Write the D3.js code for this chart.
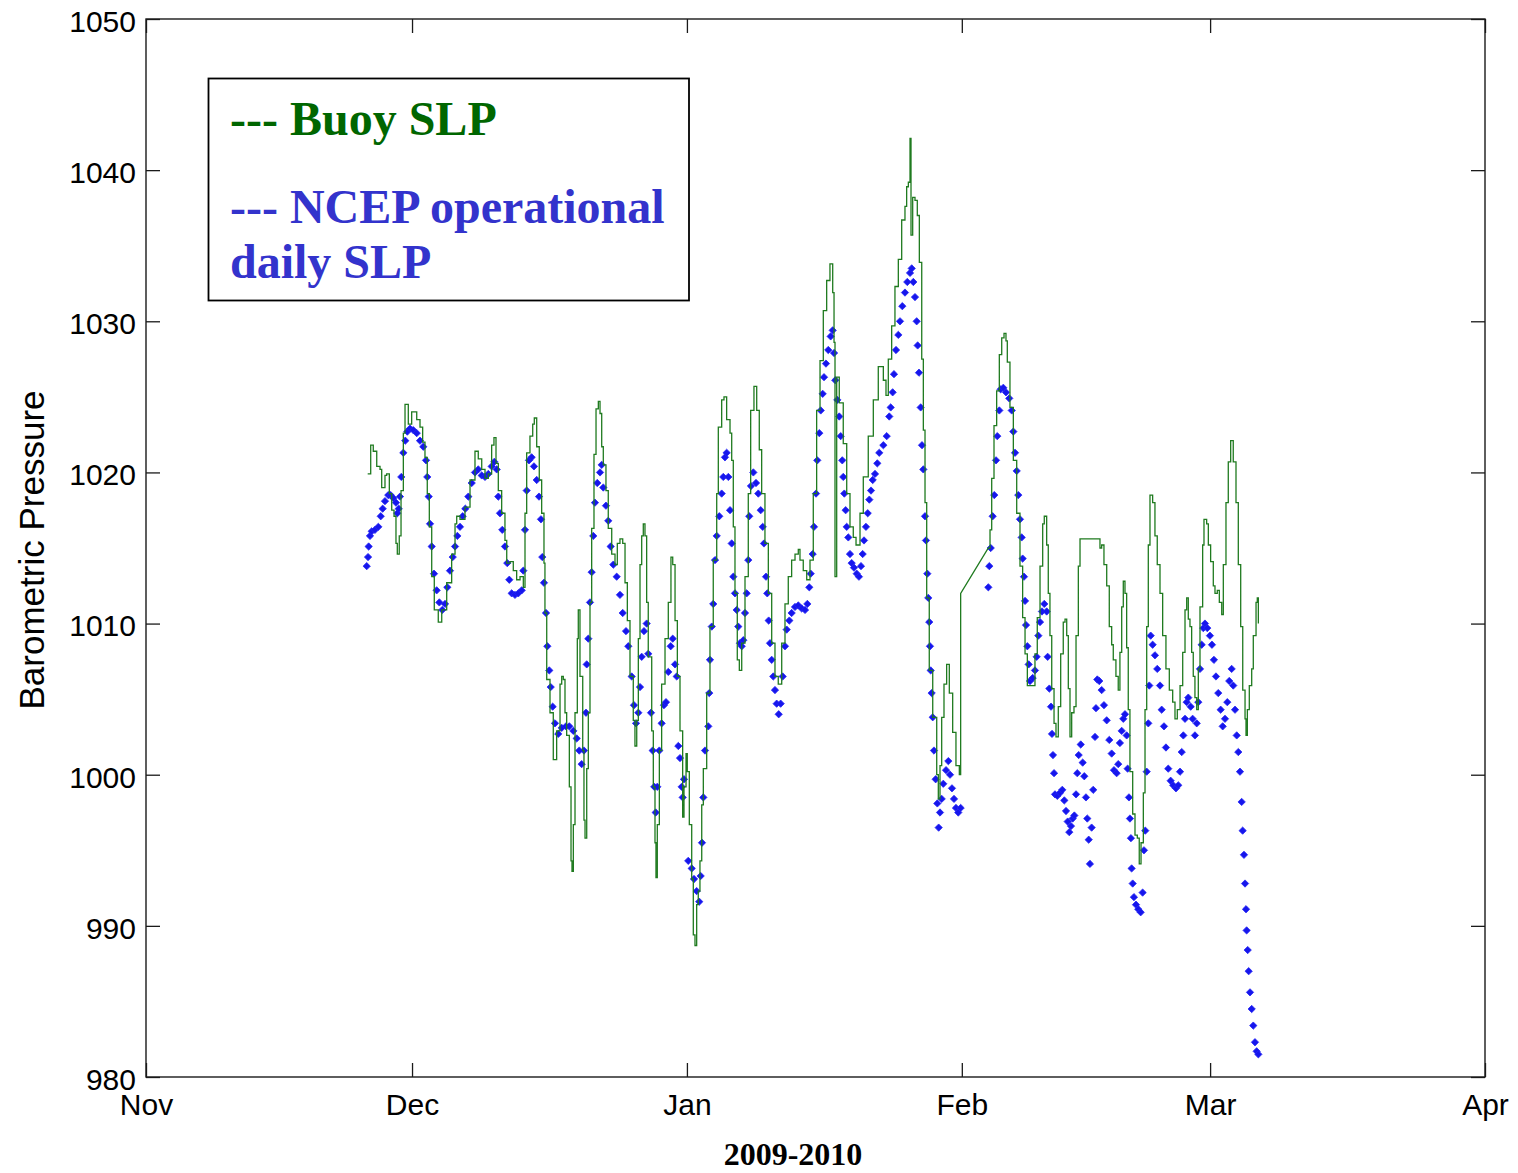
<!DOCTYPE html>
<html>
<head>
<meta charset="utf-8">
<script src="https://cdn.jsdelivr.net/npm/d3@7"></script>
<style>
  html, body { margin: 0; padding: 0; background: #fff; }
  svg { display: block; }
</style>
</head>
<body>
<svg id="chart" width="1518" height="1173"></svg>
<script>
// ---------------- DATA ----------------
// time is given in days since 2009-11-01 00:00 UTC
const seasonStartUTC = Date.UTC(2009, 10, 1);
const seasonEndUTC = Date.UTC(2010, 3, 1);

const monthTickLabels = ["Nov", "Dec", "Jan", "Feb", "Mar", "Apr"];
const pressureTicks = [980, 990, 1000, 1010, 1020, 1030, 1040, 1050];

const seriesNames = ["--- Buoy SLP", "--- NCEP operational", "daily SLP"];
const yAxisTitle = "Barometric Pressure";
const xAxisTitle = "2009-2010";

// Buoy SLP (green line): [day, hPa]
const buoySLP = [
[25.00,1019.9],[25.34,1021.8],[25.63,1021.4],[26.02,1020.4],[26.39,1020.2],[26.58,1019.0],[26.95,1019.8],[27.14,1019.9],
[27.44,1018.6],[27.71,1017.5],[27.97,1017.1],[28.19,1015.3],[28.34,1014.6],[28.56,1015.8],[28.76,1018.8],[29.02,1022.6],
[29.21,1024.5],[29.58,1023.2],[29.96,1024.0],[30.33,1024.0],[30.53,1023.5],[30.90,1023.0],[31.20,1022.0],[31.46,1021.0],
[31.72,1018.6],[31.95,1016.4],[32.22,1013.1],[32.51,1010.9],[32.96,1010.1],[33.35,1010.9],[33.91,1012.7],[34.47,1014.6],
[34.85,1016.6],[35.04,1017.1],[35.41,1016.9],[35.97,1017.7],[36.54,1019.5],[37.10,1021.4],[37.47,1020.9],[37.86,1020.2],
[38.23,1019.6],[38.60,1019.9],[38.98,1021.8],[39.24,1022.3],[39.47,1020.6],[39.73,1018.8],[40.11,1017.3],[40.48,1015.5],
[40.68,1014.0],[41.05,1014.1],[41.42,1013.5],[41.80,1012.9],[42.18,1013.1],[42.55,1012.4],[42.74,1017.3],[42.93,1021.3],
[43.30,1022.4],[43.61,1023.2],[43.79,1023.6],[44.06,1021.7],[44.35,1019.5],[44.62,1017.3],[44.88,1014.0],[44.99,1010.7],
[45.19,1006.3],[45.56,1004.1],[45.93,1001.0],[46.31,1002.9],[46.69,1006.0],[46.88,1006.5],[47.06,1006.3],[47.25,1004.1],
[47.44,1002.6],[47.74,999.2],[47.93,994.3],[48.04,993.6],[48.19,996.7],[48.38,1004.1],[48.64,1009.0],[48.75,1010.9],
[48.94,1006.5],[49.25,1001.6],[49.39,997.0],[49.51,995.8],[49.70,1000.4],[49.88,1004.1],[50.07,1011.4],[50.26,1016.3],
[50.52,1021.2],[50.75,1024.2],[51.01,1024.7],[51.20,1023.9],[51.39,1021.7],[51.57,1020.5],[51.87,1018.8],[52.13,1016.3],
[52.52,1014.6],[52.89,1013.9],[53.15,1015.3],[53.45,1015.6],[53.76,1015.3],[54.02,1012.7],[54.28,1010.2],[54.58,1006.5],
[54.95,1003.6],[55.14,1001.9],[55.34,1003.6],[55.52,1009.0],[55.71,1013.9],[55.90,1015.8],[56.08,1016.6],[56.27,1015.8],
[56.46,1011.4],[56.64,1007.8],[57.03,1002.9],[57.21,999.2],[57.40,995.5],[57.51,993.2],[57.66,996.7],[57.89,1001.6],
[58.15,1006.0],[58.53,1009.0],[58.90,1011.4],[59.20,1014.4],[59.40,1013.9],[59.66,1010.2],[59.92,1006.5],[60.22,1002.9],
[60.52,997.2],[60.67,999.2],[60.90,1001.4],[61.04,1000.2],[61.27,996.7],[61.54,993.1],[61.72,989.4],[61.91,988.7],
[62.10,991.4],[62.28,992.3],[62.47,994.3],[62.67,998.0],[62.85,1000.4],[63.23,1005.4],[63.60,1009.8],[63.97,1014.2],
[64.36,1018.6],[64.54,1023.0],[64.92,1024.8],[65.18,1025.0],[65.48,1023.5],[65.86,1022.6],[66.05,1020.8],[66.23,1016.4],
[66.42,1012.0],[66.68,1007.6],[66.91,1006.9],[67.18,1008.7],[67.55,1013.1],[67.92,1018.6],[68.19,1024.1],[68.56,1025.7],
[68.87,1024.1],[69.16,1021.5],[69.43,1018.6],[69.80,1015.3],[70.18,1012.0],[70.56,1008.7],[70.93,1006.5],[71.30,1006.0],
[71.69,1008.7],[72.06,1011.3],[72.43,1013.1],[72.81,1014.2],[73.19,1014.6],[73.56,1014.9],[73.75,1014.2],[74.12,1013.5],
[74.51,1012.9],[74.88,1014.2],[75.25,1018.6],[75.63,1024.1],[76.01,1027.4],[76.38,1030.7],[76.76,1032.7],[77.13,1033.8],
[77.44,1031.9],[77.59,1028.6],[77.70,1013.1],[77.89,1026.3],[78.18,1024.6],[78.63,1021.9],[79.02,1018.6],[79.39,1016.4],
[79.76,1015.7],[80.07,1015.2],[80.52,1017.3],[80.89,1019.7],[81.45,1022.4],[82.02,1024.8],[82.58,1027.0],[83.15,1026.1],
[83.45,1025.1],[83.71,1027.5],[84.09,1029.7],[84.46,1032.3],[84.84,1034.1],[85.22,1036.7],[85.59,1037.6],[85.78,1038.9],
[85.97,1039.2],[86.16,1042.1],[86.27,1035.7],[86.46,1038.2],[86.72,1038.0],[86.98,1037.0],[87.21,1033.9],[87.48,1027.5],
[87.66,1022.8],[87.85,1018.0],[88.04,1011.7],[88.33,1006.9],[88.72,1003.8],[89.17,1000.0],[89.35,998.4],[89.54,1000.6],
[89.73,1003.8],[89.99,1006.0],[90.29,1007.3],[90.59,1005.4],[90.97,1002.8],[91.34,1000.6],[91.72,1000.0],[91.87,1012.0],
[94.99,1015.0],[95.18,1016.2],[95.37,1019.6],[95.63,1023.1],[95.93,1025.4],[96.23,1027.8],[96.50,1028.9],[96.76,1029.2],
[96.98,1028.7],[97.13,1027.3],[97.43,1024.3],[97.81,1020.8],[98.19,1017.3],[98.56,1013.8],[98.86,1010.4],[99.13,1008.0],
[99.39,1005.9],[99.88,1005.9],[100.25,1008.0],[100.51,1010.4],[100.82,1013.8],[101.12,1016.6],[101.30,1017.1],[101.57,1015.2],
[101.75,1012.0],[101.94,1009.2],[102.14,1005.7],[102.40,1003.4],[102.62,1002.5],[102.88,1004.5],[103.15,1008.0],[103.44,1010.1],
[103.64,1010.3],[103.83,1009.2],[104.01,1005.7],[104.20,1002.5],[104.39,1004.1],[104.65,1004.5],[104.88,1009.2],[105.14,1013.8],
[105.33,1015.6],[107.39,1015.6],[107.58,1015.0],[107.77,1015.2],[108.03,1013.9],[108.34,1012.5],[108.63,1009.8],[108.90,1008.6],
[109.08,1007.6],[109.38,1006.5],[109.64,1005.6],[109.83,1008.1],[110.03,1011.1],[110.21,1012.8],[110.40,1012.0],[110.59,1008.4],
[110.77,1004.3],[110.96,1000.2],[111.27,997.4],[111.53,996.0],[111.79,995.8],[112.01,994.1],[112.21,995.5],[112.47,998.8],
[112.66,1004.3],[112.85,1009.8],[113.03,1015.2],[113.22,1018.5],[113.52,1018.0],[113.78,1015.8],[114.04,1013.9],[114.35,1012.0],
[114.65,1009.2],[115.02,1007.0],[115.40,1005.6],[115.78,1004.8],[116.04,1003.7],[116.30,1004.3],[116.61,1005.9],[116.91,1008.1],
[117.17,1010.9],[117.36,1011.7],[117.54,1010.3],[117.73,1009.8],[117.92,1008.1],[118.10,1006.5],[118.29,1005.1],[118.49,1004.3],
[118.67,1007.0],[118.86,1011.1],[119.16,1015.2],[119.31,1016.9],[119.61,1016.6],[119.80,1015.2],[120.06,1014.1],[120.36,1012.5],
[120.55,1012.0],[120.81,1012.2],[121.04,1011.4],[121.31,1010.6],[121.49,1013.9],[121.79,1018.0],[122.05,1020.7],[122.32,1022.1],
[122.61,1020.7],[122.92,1018.0],[123.18,1013.9],[123.45,1009.8],[123.68,1005.6],[123.94,1003.7],[124.05,1002.6],[124.20,1004.3],
[124.42,1005.9],[124.69,1007.0],[124.87,1009.2],[125.18,1011.4],[125.32,1011.7],[125.44,1010.0]
];

// NCEP operational daily SLP (blue markers): [day, hPa]
const ncepSLP = [
[24.89,1013.8],[25.04,1014.4],[25.11,1015.1],[25.26,1015.8],[25.45,1016.1],[25.82,1016.2],[26.20,1016.4],[26.47,1017.1],
[26.69,1017.6],[26.95,1018.1],[27.32,1018.5],[27.59,1018.5],[27.89,1018.3],[28.19,1018.0],[28.34,1017.3],[28.50,1017.6],
[28.64,1018.4],[28.79,1019.7],[29.02,1021.3],[29.24,1022.1],[29.47,1022.7],[29.77,1022.9],[30.14,1022.8],[30.53,1022.6],
[30.90,1022.1],[31.27,1021.7],[31.58,1020.8],[31.72,1019.7],[31.88,1018.4],[32.03,1016.6],[32.22,1015.1],[32.48,1013.3],
[32.78,1012.2],[33.08,1011.4],[33.41,1010.9],[33.72,1011.3],[33.98,1012.4],[34.28,1013.5],[34.59,1014.4],[34.85,1015.1],
[35.11,1015.8],[35.41,1016.4],[35.71,1017.1],[36.01,1017.6],[36.35,1018.4],[36.73,1019.3],[37.10,1020.0],[37.47,1020.2],
[37.86,1019.8],[38.23,1019.7],[38.60,1019.9],[38.98,1020.4],[39.28,1020.7],[39.55,1020.2],[39.73,1018.4],[39.92,1017.3],
[40.18,1016.2],[40.48,1015.1],[40.74,1014.0],[40.97,1012.9],[41.24,1012.0],[41.61,1011.9],[41.98,1012.0],[42.37,1012.2],
[42.55,1013.5],[42.74,1016.2],[42.93,1018.8],[43.19,1020.8],[43.49,1021.0],[43.75,1020.4],[44.06,1019.5],[44.32,1018.4],
[44.54,1016.9],[44.69,1014.4],[44.88,1012.7],[45.11,1010.7],[45.26,1008.5],[45.48,1006.9],[45.64,1005.8],[45.86,1004.5],
[46.12,1003.4],[46.49,1002.7],[46.88,1003.1],[47.36,1003.2],[47.74,1003.2],[48.19,1002.9],[48.57,1002.4],[48.86,1001.6],
[49.13,1000.7],[49.39,1001.6],[49.62,1004.1],[49.70,1007.3],[49.88,1009.0],[50.07,1011.4],[50.26,1013.4],[50.44,1015.8],
[50.63,1018.0],[50.89,1019.3],[51.20,1020.0],[51.39,1020.5],[51.57,1019.0],[51.87,1017.8],[52.13,1016.8],[52.40,1015.1],
[52.70,1013.9],[53.08,1013.1],[53.45,1011.9],[53.76,1010.7],[54.13,1009.5],[54.39,1008.5],[54.77,1006.5],[55.03,1004.6],
[55.26,1003.4],[55.52,1004.1],[55.71,1005.8],[55.90,1007.8],[56.16,1009.5],[56.46,1010.0],[56.64,1008.0],[56.95,1004.1],
[57.14,1001.6],[57.32,999.2],[57.48,997.5],[57.66,999.2],[57.89,1001.6],[58.15,1003.4],[58.41,1004.6],[58.64,1004.8],
[58.90,1006.8],[59.17,1008.5],[59.40,1009.0],[59.66,1007.3],[59.85,1006.5],[60.03,1001.9],[60.22,1001.1],[60.41,999.2],
[60.52,998.5],[60.67,999.7],[61.15,994.3],[61.54,993.8],[61.80,993.1],[62.10,992.3],[62.39,991.6],[62.55,993.3],
[62.70,995.5],[62.85,998.5],[63.04,1001.6],[63.41,1003.2],[63.52,1005.4],[63.60,1007.6],[63.80,1009.8],[63.97,1011.3],
[64.17,1014.2],[64.36,1015.8],[64.65,1017.1],[64.92,1018.6],[65.10,1019.7],[65.29,1021.0],[65.48,1021.3],[65.67,1019.7],
[65.86,1017.5],[66.05,1015.3],[66.23,1013.1],[66.42,1012.0],[66.61,1010.9],[66.79,1009.8],[66.98,1008.7],[67.18,1008.5],
[67.36,1008.9],[67.55,1010.7],[67.74,1012.0],[67.92,1014.2],[68.03,1017.1],[68.22,1019.1],[68.49,1020.0],[68.79,1019.3],
[69.05,1018.6],[69.32,1017.5],[69.55,1016.4],[69.69,1015.3],[69.92,1013.1],[70.06,1012.0],[70.22,1010.2],[70.37,1008.7],
[70.56,1007.6],[70.74,1006.5],[70.93,1005.6],[71.12,1004.7],[71.35,1004.0],[71.57,1004.7],[71.80,1006.5],[72.06,1008.5],
[72.25,1009.6],[72.55,1010.2],[72.81,1010.7],[73.19,1011.1],[73.56,1011.2],[73.94,1011.0],[74.32,1010.9],[74.58,1011.3],
[74.80,1012.4],[74.96,1013.3],[75.18,1014.6],[75.33,1016.4],[75.56,1018.6],[75.70,1020.8],[75.93,1022.6],[76.09,1024.1],
[76.31,1025.2],[76.46,1026.3],[76.68,1027.2],[76.94,1028.1],[77.21,1029.0],[77.44,1029.4],[77.59,1027.9],[77.73,1026.1],
[77.96,1024.8],[78.18,1023.7],[78.34,1022.4],[78.52,1020.8],[78.63,1019.7],[78.75,1018.6],[78.90,1017.5],[79.02,1016.4],
[79.20,1015.7],[79.39,1014.6],[79.58,1014.0],[79.84,1013.7],[80.15,1013.3],[80.40,1013.1],[80.63,1013.8],[80.82,1014.6],
[80.97,1015.5],[81.19,1016.4],[81.39,1017.3],[81.57,1018.2],[81.76,1018.8],[81.95,1019.5],[82.21,1019.9],[82.47,1020.6],
[82.69,1021.3],[83.15,1021.8],[83.53,1022.4],[83.82,1023.7],[83.98,1024.3],[84.20,1025.3],[84.35,1026.5],[84.58,1028.1],
[84.84,1029.1],[85.03,1030.0],[85.29,1031.0],[85.59,1031.9],[85.85,1032.6],[86.16,1033.2],[86.35,1033.5],[86.53,1032.6],
[86.72,1031.6],[86.91,1030.0],[87.02,1028.4],[87.17,1026.6],[87.36,1024.3],[87.51,1021.8],[87.66,1020.2],[87.85,1017.1],
[87.96,1015.5],[88.11,1013.3],[88.22,1011.7],[88.33,1010.1],[88.41,1008.5],[88.49,1006.9],[88.60,1005.4],[88.72,1003.8],
[88.86,1001.6],[89.05,999.7],[89.24,998.1],[89.39,996.5],[89.54,997.5],[89.73,998.4],[89.91,999.4],[90.22,1000.3],
[90.48,1000.9],[90.67,1000.0],[90.89,999.1],[91.12,998.4],[91.34,997.8],[91.60,997.5],[91.87,997.8],
[94.99,1012.4],[95.10,1013.8],[95.26,1015.0],[95.48,1017.1],[95.66,1018.5],[95.86,1020.8],[96.00,1022.4],[96.23,1024.1],
[96.38,1025.5],[96.68,1025.6],[96.98,1025.3],[97.35,1024.9],[97.63,1024.1],[97.81,1022.7],[98.00,1021.3],[98.19,1020.1],
[98.37,1018.5],[98.56,1016.9],[98.75,1015.7],[98.86,1014.3],[99.01,1013.1],[99.13,1011.5],[99.24,1009.9],[99.39,1008.5],
[99.54,1007.3],[99.69,1006.2],[99.99,1006.4],[100.25,1006.9],[100.44,1007.8],[100.63,1009.2],[100.82,1010.1],[101.04,1010.8],
[101.30,1011.3],[101.57,1010.8],[101.68,1007.8],[101.87,1005.7],[102.06,1004.5],[102.17,1002.7],[102.28,1001.3],[102.40,1000.1],
[102.51,998.7],[102.77,998.6],[103.07,998.8],[103.33,999.0],[103.56,998.3],[103.75,997.6],[103.94,996.9],[104.12,996.2],
[104.31,996.6],[104.50,997.1],[104.69,997.3],[104.88,998.7],[105.02,1000.1],[105.18,1001.3],[105.41,1002.0],[105.63,1000.8],
[105.81,999.9],[106.00,998.5],[106.15,997.1],[106.31,995.7],[106.45,994.1],[106.64,996.5],[106.82,999.0],[107.02,1002.5],
[107.13,1004.4],[107.28,1006.3],[107.50,1006.2],[107.77,1005.6],[108.03,1004.6],[108.34,1003.6],[108.63,1002.3],[108.90,1001.4],
[109.16,1000.3],[109.46,1000.1],[109.64,1000.7],[109.83,1002.1],[110.03,1002.9],[110.21,1003.7],[110.40,1004.0],[110.59,1002.6],
[110.70,1000.4],[110.85,998.5],[110.96,997.1],[111.07,995.8],[111.15,993.8],[111.27,992.8],[111.41,991.9],[111.64,991.4],
[111.90,991.1],[112.17,990.9],[112.39,992.2],[112.54,995.0],[112.69,996.3],[112.85,1000.2],[113.03,1003.4],[113.14,1005.9],
[113.30,1009.2],[113.52,1008.6],[113.78,1007.9],[114.04,1007.0],[114.35,1005.9],[114.54,1004.3],[114.80,1003.2],[115.02,1001.8],
[115.28,1000.4],[115.55,999.6],[115.84,999.3],[116.15,999.1],[116.41,999.3],[116.61,1000.2],[116.80,1001.5],[116.98,1002.6],
[117.17,1003.7],[117.36,1004.8],[117.54,1005.1],[117.81,1004.5],[118.03,1003.7],[118.29,1002.6],[118.49,1003.4],[118.67,1004.8],
[118.86,1007.0],[119.05,1008.6],[119.23,1009.7],[119.42,1010.0],[119.68,1009.7],[119.98,1009.2],[120.21,1008.6],[120.43,1007.6],
[120.66,1006.5],[120.92,1005.4],[121.19,1004.3],[121.42,1003.2],[121.68,1003.7],[121.94,1004.8],[122.16,1006.2],[122.43,1007.0],
[122.61,1005.9],[122.81,1004.3],[123.00,1002.6],[123.18,1001.5],[123.37,1000.2],[123.56,998.2],[123.67,996.3],[123.82,994.7],
[123.94,992.8],[124.05,991.1],[124.12,989.7],[124.24,988.4],[124.35,987.0],[124.50,985.6],[124.69,984.5],[124.87,983.4],
[125.06,982.3],[125.25,981.7],[125.44,981.5]
];

// ---------------- CHART ----------------
const W = 1518, H = 1173;
const margin = { left: 146, right: 1518 - 1485, top: 19, bottom: 1173 - 1077 };
const svg = d3.select("#chart");
svg.append("rect").attr("width", W).attr("height", H).attr("fill", "#fff");

const dayToDate = d => new Date(seasonStartUTC + d * 864e5);

const x = d3.scaleUtc()
  .domain([new Date(seasonStartUTC), new Date(seasonEndUTC)])
  .range([margin.left, W - margin.right]);
const y = d3.scaleLinear()
  .domain([pressureTicks[0], pressureTicks[pressureTicks.length - 1]])
  .range([H - margin.bottom, margin.top]);

const monthTicks = d3.utcMonth.range(new Date(seasonStartUTC), new Date(seasonEndUTC + 1));
const sansFont = "'Liberation Sans', Arial, Helvetica, sans-serif";
const serifFont = "'Liberation Serif', 'Times New Roman', Times, serif";
const axisColor = "#1a1a1a";
const tickLen = 14;

function styleAxis(g) {
  g.select(".domain").remove();
  g.selectAll(".tick line").attr("stroke", axisColor).attr("stroke-width", 1.3);
  g.selectAll(".tick text")
    .attr("fill", "#000")
    .style("font-family", sansFont)
    .style("font-size", "30px");
}

// bottom axis with labels
svg.append("g")
  .attr("transform", `translate(0,${y.range()[0]})`)
  .call(d3.axisBottom(x).tickValues(monthTicks)
    .tickFormat((d, i) => monthTickLabels[i])
    .tickSize(-tickLen).tickPadding(17))
  .call(styleAxis);

// top axis ticks
svg.append("g")
  .attr("transform", `translate(0,${y.range()[1]})`)
  .call(d3.axisTop(x).tickValues(monthTicks).tickFormat("").tickSize(-tickLen))
  .call(styleAxis);

// left axis with labels
svg.append("g")
  .attr("transform", `translate(${x.range()[0]},0)`)
  .call(d3.axisLeft(y).tickValues(pressureTicks).tickFormat(d3.format("d"))
    .tickSize(-tickLen).tickPadding(10))
  .call(styleAxis)
  .call(g => g.selectAll(".tick text").attr("dy", "0.41em"));

// right axis ticks
svg.append("g")
  .attr("transform", `translate(${x.range()[1]},0)`)
  .call(d3.axisRight(y).tickValues(pressureTicks).tickFormat("").tickSize(-tickLen))
  .call(styleAxis);

// frame
svg.append("rect")
  .attr("x", x.range()[0]).attr("y", y.range()[1])
  .attr("width", x.range()[1] - x.range()[0])
  .attr("height", y.range()[0] - y.range()[1])
  .attr("fill", "none").attr("stroke", axisColor).attr("stroke-width", 1.4);

// clip
svg.append("clipPath").attr("id", "plotclip")
  .append("rect")
  .attr("x", x.range()[0]).attr("y", y.range()[1])
  .attr("width", x.range()[1] - x.range()[0])
  .attr("height", y.range()[0] - y.range()[1]);

const plot = svg.append("g").attr("clip-path", "url(#plotclip)");

// NCEP markers
const diamondType = d3.symbolDiamond2 || d3.symbolDiamond;
const marker = d3.symbol().type(diamondType).size(34);
plot.append("g")
  .selectAll("path")
  .data(ncepSLP)
  .join("path")
  .attr("transform", d => `translate(${x(dayToDate(d[0]))},${y(d[1])})`)
  .attr("d", marker)
  .attr("fill", "#1616ec")
  .attr("stroke", "#2626f6")
  .attr("stroke-width", 0.8);

// Buoy line: stair-step record, straight connector across data gaps (> 1 day)
function stairPath(data) {
  const p = d3.path();
  data.forEach((d, i) => {
    const px = x(dayToDate(d[0])), py = y(d[1]);
    if (i === 0) { p.moveTo(px, py); return; }
    const prev = data[i - 1];
    if (d[0] - prev[0] > 1) { p.lineTo(px, py); }
    else { p.lineTo(px, y(prev[1])); p.lineTo(px, py); }
  });
  return p.toString();
}
plot.append("path")
  .attr("d", stairPath(buoySLP))
  .attr("fill", "none")
  .attr("stroke", "#1f7a1f")
  .attr("stroke-width", 1.3)
  .attr("stroke-linejoin", "miter");

// axis titles
svg.append("text")
  .attr("transform", "translate(44,550) rotate(-90)")
  .attr("text-anchor", "middle")
  .style("font-family", sansFont)
  .style("font-size", "35px")
  .attr("fill", "#000")
  .text(yAxisTitle);

svg.append("text")
  .attr("x", 793).attr("y", 1165)
  .attr("text-anchor", "middle")
  .style("font-family", serifFont)
  .style("font-size", "32px")
  .style("font-weight", "bold")
  .attr("fill", "#000")
  .text(xAxisTitle);

// legend box
const legend = svg.append("g");
legend.append("rect")
  .attr("x", 208.5).attr("y", 78.5)
  .attr("width", 480.5).attr("height", 222)
  .attr("fill", "#fff").attr("stroke", "#000").attr("stroke-width", 1.8);

const legendItems = [
  { text: seriesNames[0], color: "#006600", y: 135 },
  { text: seriesNames[1], color: "#3333cc", y: 223 },
  { text: seriesNames[2], color: "#3333cc", y: 278 }
];
legend.selectAll("text.leg")
  .data(legendItems)
  .join("text")
  .attr("class", "leg")
  .attr("x", 230)
  .attr("y", d => d.y)
  .style("font-family", serifFont)
  .style("font-size", "48px")
  .style("font-weight", "bold")
  .attr("fill", d => d.color)
  .text(d => d.text);
</script>
</body>
</html>
